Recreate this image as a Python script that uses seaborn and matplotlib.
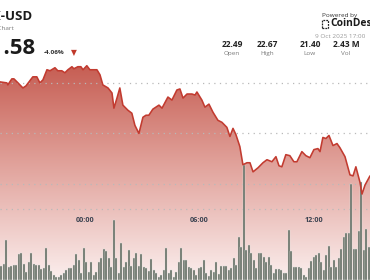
import numpy as np
import pandas as pd
import seaborn as sns
import matplotlib
matplotlib.use("Agg")
import matplotlib.pyplot as plt
from matplotlib.colors import LinearSegmentedColormap
from matplotlib.patches import Rectangle

# ---------------- data ----------------
# price line: time in hours relative to 00:00, price in USD
times = [-4.45, -4.09, -4.04, -3.83, -3.72, -3.56, -3.25, -3.09, -2.73, -2.52,
         -2.36, -2.20, -1.99, -1.83, -1.57, -1.42, -1.21, -1.05, -0.89, -0.68,
         -0.58, -0.37, -0.21, -0.10, 0.10, 0.26, 0.42, 0.63, 0.79, 0.94,
         1.21, 1.42, 1.52, 1.68, 1.83, 1.99, 2.25, 2.46, 2.62, 2.83,
         3.04, 3.20, 3.35, 3.56, 3.88, 4.04, 4.35, 4.56, 4.82, 4.98,
         5.14, 5.35, 5.61, 5.77, 5.87, 6.13, 6.29, 6.50, 6.71, 6.97,
         7.18, 7.44, 7.60, 7.76, 7.91, 8.12, 8.28, 8.49, 8.65, 8.81,
         9.07, 9.33, 9.54, 9.80, 10.01, 10.17, 10.32, 10.53, 10.74, 10.95,
         11.11, 11.37, 11.58, 11.79, 12.00, 12.21, 12.32, 12.47, 12.63, 12.79,
         13.00, 13.21, 13.36, 13.63, 13.89, 14.05, 14.20, 14.41, 14.52, 14.68,
         14.94]
prices = [22.51, 22.50, 22.48, 22.54, 22.54, 22.51, 22.45, 22.47, 22.56, 22.56,
          22.50, 22.53, 22.63, 22.62, 22.65, 22.62, 22.62, 22.60, 22.63, 22.66,
          22.64, 22.66, 22.66, 22.63, 22.67, 22.63, 22.63, 22.63, 22.58, 22.48,
          22.45, 22.40, 22.25, 22.35, 22.45, 22.28, 22.23, 22.20, 22.08, 22.00,
          22.16, 22.18, 22.18, 22.24, 22.28, 22.25, 22.36, 22.33, 22.43, 22.44,
          22.35, 22.39, 22.39, 22.38, 22.41, 22.33, 22.26, 22.29, 22.21, 22.13,
          22.11, 22.06, 21.97, 22.05, 21.99, 21.87, 21.69, 21.71, 21.71, 21.62,
          21.66, 21.71, 21.74, 21.72, 21.77, 21.68, 21.67, 21.79, 21.78, 21.72,
          21.72, 21.82, 21.78, 21.76, 21.84, 21.85, 21.82, 21.96, 21.95, 21.98,
          21.88, 21.90, 21.86, 21.77, 21.59, 21.58, 21.67, 21.52, 21.40, 21.49,
          21.58]

# volume bars (arbitrary units), one per interval across the window
volumes = [14, 16, 40, 13, 14, 15, 15, 26, 27, 16, 8, 18, 27, 16, 15, 15, 11, 12, 32, 15,
           9, 5, 3, 3, 5, 7, 10, 12, 12, 15, 26, 20, 7, 32, 18, 8, 18, 5, 8, 18,
           22, 31, 29, 22, 13, 60, 22, 7, 37, 13, 18, 30, 14, 22, 27, 14, 26, 13, 12, 9,
           21, 10, 7, 3, 5, 10, 32, 7, 10, 3, 8, 18, 32, 20,
           20, 13, 12, 10, 5, 12, 13, 20, 7, 4, 10, 8, 18, 6, 14, 14, 14, 10, 12, 22,
           15, 43, 33, 115, 30, 35, 27, 20, 12, 27, 27, 23, 18, 23, 15, 7, 11, 11, 10, 7,
           7, 50, 29, 13, 13, 13, 12, 5, 3, 12, 19, 23, 25, 27, 18, 10, 25, 34, 13, 20,
           13, 22, 31, 43, 47, 47, 96, 31, 31, 49, 98, 30, 51, 33]

grid_prices = [22.5, 22.0, 21.5, 21.25]
tick_hours = [0, 6, 12]
tick_labels = ["00:00", "06:00", "12:00"]

symbol = "LINK-USD"
last_price = "21.58"
change = "-4.06%"
stat_values = ["22.49", "22.67", "21.40", "2.43 M"]
stat_names = ["Open", "High", "Low", "Vol"]
stamp = "9 Oct 2025 17:00"

# ---------------- figure ----------------
W, H = 370, 280
sns.set_theme(style="white")
plt.rcParams['font.family'] = ['Open Sans', 'DejaVu Sans']
fig = plt.figure(figsize=(W / 100, H / 100), dpi=100)
fig.patch.set_facecolor("white")

XMIN, XMAX = -4.45, 14.94
YMIN, YMAX = 20.55, 23.32

ax = fig.add_axes([0, 0, 1, 1])
ax.set_xlim(XMIN, XMAX)
ax.set_ylim(YMIN, YMAX)
ax.axis("off")

# gradient area under price line
poly = ax.fill_between(times, prices, YMIN, facecolor="none", edgecolor="none")
cmap = LinearSegmentedColormap.from_list("g", ["#c4584d", "#e2a59e", "#fbefee"])
grad = np.linspace(0, 1, 256).reshape(-1, 1)
img = ax.imshow(grad, cmap=cmap, aspect="auto",
                extent=[XMIN, XMAX, YMIN, 22.75], origin="upper", zorder=1)
img.set_clip_path(poly.get_paths()[0], transform=ax.transData)

for gp in grid_prices:
    ax.axhline(gp, color="#b9b9b9", lw=0.9, linestyle=(0, (1, 3.5)), zorder=2)

for h, lab in zip(tick_hours, tick_labels):
    ax.text(h, 21.14, lab, ha="center", va="center", fontsize=5.2,
            fontweight="bold", color="#3a4250", zorder=3)

# volume bars
axv = fig.add_axes([0, 0, 1, 1])
axv.patch.set_alpha(0)
vdf = pd.DataFrame({"i": np.arange(len(volumes)), "v": volumes})
sns.barplot(data=vdf, x="i", y="v", ax=axv, color="#616b60", saturation=1,
            width=0.95, edgecolor="#dfe2df", linewidth=0.3)
axv.set_xlim(-0.5, len(volumes) - 0.5)
axv.set_ylim(0, 280)
axv.axis("off")

# price line on top
axl = fig.add_axes([0, 0, 1, 1])
axl.patch.set_alpha(0)
ldf = pd.DataFrame({"t": times, "p": prices})
sns.lineplot(data=ldf, x="t", y="p", ax=axl, color="#c23b30", lw=1.15)
axl.set_xlim(XMIN, XMAX)
axl.set_ylim(YMIN, YMAX)
axl.axis("off")

# ---------------- header texts ----------------
def P(x, y):
    return x / W, 1 - y / H

fig.text(*P(33, 17), symbol, ha="right", va="center", fontsize=9.5,
         fontweight="bold", color="#1b1b1b")
fig.text(*P(13.5, 28), "LINK Chart", ha="right", va="center", fontsize=4.6,
         color="#7a7a7a")
fig.text(*P(35.5, 48), last_price, ha="right", va="center", fontsize=16,
         fontweight="bold", color="#1b1b1b")
fig.text(*P(44, 53), change, ha="left", va="center", fontsize=4.6,
         color="#333333", fontweight="bold")
fig.text(*P(73.5, 53), "▼", ha="center", va="center", fontsize=5.5,
         color="#c0392b", family=["DejaVu Sans"])

fig.text(*P(322, 15), "Powered by", ha="left", va="center", fontsize=4.6,
         color="#333333")
fig.patches.append(Rectangle(P(322, 28), 6 / W, 8 / H, transform=fig.transFigure,
                             fill=False, edgecolor="#222222", lw=0.9,
                             linestyle=(0, (1.5, 0.8))))
fig.text(*P(330, 24), "CoinDesk", ha="left", va="center", fontsize=7.4,
         fontweight="bold", color="#1b1b1b")
fig.text(*P(315, 37), stamp, ha="left", va="center", fontsize=4.6,
         color="#9a9a9a")

for xc, val, nm in zip([232, 267, 310, 346], stat_values, stat_names):
    fig.text(*P(xc, 44.5), val, ha="center", va="center", fontsize=6,
             fontweight="bold", color="#222222")
    fig.text(*P(xc, 53.5), nm, ha="center", va="center", fontsize=4.6,
             color="#7a7a7a")

fig.savefig("out.png", dpi=100, facecolor="white")
